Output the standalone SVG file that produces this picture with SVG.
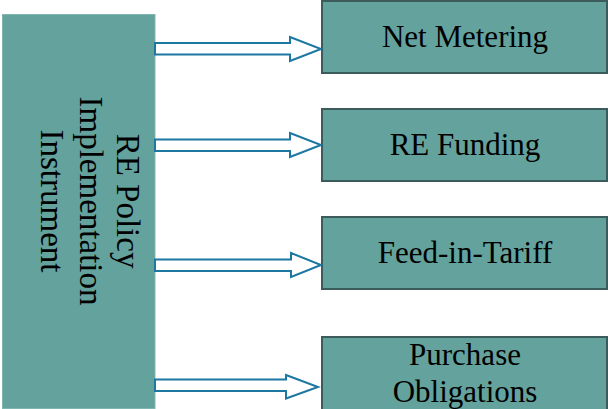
<svg xmlns="http://www.w3.org/2000/svg" width="608" height="409" viewBox="0 0 608 409">
  <style>
    .main { fill: #64a39d; stroke: #80b6b1; stroke-width: 1; }
    .box { fill: #64a39d; stroke: #3b5c5a; stroke-width: 2; }
    .label { font-family: "Liberation Serif", "Times New Roman", serif; fill: #000; text-anchor: middle; }
    .arrow { fill: #ffffff; stroke: #1c77a1; stroke-width: 2; stroke-linejoin: miter; }
  </style>

  <!-- source instrument, text runs top to bottom -->
  <g id="re-policy">
    <rect class="main" x="2.5" y="14.5" width="152.5" height="394"/>
    <g transform="translate(78.5,201) rotate(90)">
      <text class="label" font-size="33" x="0" y="-38.5">RE Policy</text>
      <text class="label" font-size="33" x="0" y="-1">Implementation</text>
      <text class="label" font-size="33" x="0" y="37.5">Instrument</text>
    </g>
  </g>

  <g id="net-metering">
    <rect class="box" x="322" y="1" width="285" height="72"/>
    <text class="label" font-size="31" x="465" y="47">Net Metering</text>
  </g>

  <g id="re-funding">
    <rect class="box" x="322" y="109" width="285" height="72"/>
    <text class="label" font-size="31" x="465" y="155">RE Funding</text>
  </g>

  <g id="feed-in-tariff">
    <rect class="box" x="322" y="217" width="285" height="72"/>
    <text class="label" font-size="31" x="465" y="263">Feed-in-Tariff</text>
  </g>

  <g id="purchase-obligations">
    <rect class="box" x="322" y="337" width="285" height="80"/>
    <text class="label" font-size="31" x="465" y="365">Purchase</text>
    <text class="label" font-size="31" x="465" y="402">Obligations</text>
  </g>

  <!-- block arrows from the instrument to each mechanism -->
  <g id="connectors">
    <path class="arrow" d="M155,43 H290 V37 L321,49 L290,61 V54.5 H155 Z"/>
    <path class="arrow" d="M155,139.5 H290 V133 L321,145 L290,157 V151 H155 Z"/>
    <path class="arrow" d="M155,259.5 H291 V253 L321,265 L291,277 V271 H155 Z"/>
    <path class="arrow" d="M155,379.5 H286 V375 L318,387 L286,398.5 V391 H155 Z"/>
  </g>
</svg>
